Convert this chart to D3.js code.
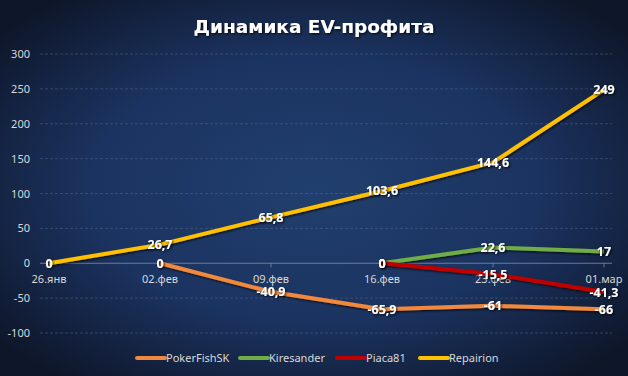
<!DOCTYPE html>
<html>
<head>
<meta charset="utf-8">
<script src="https://cdn.jsdelivr.net/npm/d3@7"></script>
<style>
  body { margin: 0; background: #14213b; }
  svg { display: block; }
  .tick-y { font: 11px "Noto Sans", sans-serif; fill: #d9d9d9; }
  .cat { font: 11px "Noto Sans", sans-serif; fill: #d9d9d9; }
  .lbl { font: bold 12.5px "Noto Sans", sans-serif; fill: #fff; }
  .legend text { font: 11px "Noto Sans", sans-serif; fill: #d9d9d9; }
</style>
</head>
<body>
<div id="chart"></div>
<script>
var categories = ['26.янв', '02.фев', '09.фев', '16.фев', '23.фев', '01.мар'];
var seriesNames = ['PokerFishSK', 'Kiresander', 'Piaca81', 'Repairion'];
var pokerFishSK = [null, 0, -40.9, -65.9, -61, -66];
var kiresander = [null, null, null, 0, 22.6, 17];
var piaca81 = [null, null, null, 0, -15.5, -41.3];
var repairion = [0, 26.7, 65.8, 103.6, 144.6, 249];
var yTicks = [-100, -50, 0, 50, 100, 150, 200, 250, 300];
var colors = ['#f0883e', '#70ad47', '#c00000', '#ffc000'];

var width = 628,
    height = 376;

var svg = d3.select('#chart').append('svg')
    .attr('width', width)
    .attr('height', height);

//  background gradient
var defs = svg.append('defs');
var grad = defs.append('radialGradient')
    .attr('id', 'bg')
    .attr('cx', '50%').attr('cy', '50%').attr('r', '65%');
grad.append('stop').attr('offset', '0%').attr('stop-color', '#213f6e');
grad.append('stop').attr('offset', '55%').attr('stop-color', '#1b3360');
grad.append('stop').attr('offset', '100%').attr('stop-color', '#0e1629');

var sh = defs.append('filter').attr('id', 'shadow')
    .attr('x', '-20%').attr('y', '-50%').attr('width', '140%').attr('height', '200%');
sh.append('feDropShadow').attr('dx', 1.2).attr('dy', 1.2).attr('stdDeviation', 0.9)
    .attr('flood-color', '#000').attr('flood-opacity', 0.8);

svg.append('rect')
    .attr('width', width)
    .attr('height', height)
    .attr('fill', 'url(#bg)');

var x = d3.scalePoint()
    .domain(categories)
    .range([49, 604]);

var y = d3.scaleLinear()
    .domain([-100, 300])
    .range([333, 54]);

//  gridlines
svg.append('g').selectAll('line')
    .data(yTicks.filter(function(d) { return d !== 0; }))
    .enter().append('line')
    .attr('x1', 40).attr('x2', 612)
    .attr('y1', function(d) { return y(d); })
    .attr('y2', function(d) { return y(d); })
    .attr('stroke', '#5a6f96')
    .attr('stroke-opacity', 0.55)
    .attr('stroke-width', 0.8)
    .attr('stroke-dasharray', '3,2');

//  y labels
svg.append('g').selectAll('text')
    .data(yTicks)
    .enter().append('text')
    .attr('class', 'tick-y')
    .attr('x', 30)
    .attr('y', function(d) { return y(d) + 4; })
    .attr('text-anchor', 'end')
    .text(function(d) { return d; });

//  zero axis
svg.append('line')
    .attr('x1', 40).attr('x2', 612)
    .attr('y1', y(0)).attr('y2', y(0))
    .attr('stroke', '#7f8ea8')
    .attr('stroke-width', 0.8);

svg.append('g').selectAll('line')
    .data(categories)
    .enter().append('line')
    .attr('x1', function(d) { return x(d); })
    .attr('x2', function(d) { return x(d); })
    .attr('y1', y(0))
    .attr('y2', y(0) + 4)
    .attr('stroke', '#7f8ea8')
    .attr('stroke-width', 0.8);

svg.append('g').selectAll('text')
    .data(categories)
    .enter().append('text')
    .attr('class', 'cat')
    .attr('x', function(d) { return x(d); })
    .attr('y', y(0) + 20)
    .attr('text-anchor', 'middle')
    .text(function(d) { return d; });

//  lines
var allSeries = [pokerFishSK, kiresander, piaca81, repairion];

var line = d3.line()
    .defined(function(d) { return d !== null; })
    .x(function(d, i) { return x(categories[i]); })
    .y(function(d) { return y(d); });

allSeries.forEach(function(s, k) {
    svg.append('path')
        .datum(s)
        .attr('d', line)
        .attr('fill', 'none')
        .attr('stroke', colors[k])
        .attr('stroke-width', 4)
        .attr('stroke-linejoin', 'round')
        .attr('filter', 'url(#shadow)');
});

//  data labels
var fmt = function(v) { return String(v).replace('.', ','); };
allSeries.forEach(function(s, k) {
    svg.append('g').selectAll('text')
        .data(s.map(function(v, i) { return { v: v, c: categories[i] }; })
            .filter(function(d) { return d.v !== null; }))
        .enter().append('text')
        .attr('class', 'lbl')
        .attr('x', function(d) { return x(d.c); })
        .attr('y', function(d) { return y(d.v) + 4.5; })
        .attr('text-anchor', 'middle')
        .attr('filter', 'url(#shadow)')
        .text(function(d) { return fmt(d.v); });
});

//  title
svg.append('text')
    .attr('x', width / 2)
    .attr('y', 33)
    .attr('text-anchor', 'middle')
    .attr('filter', 'url(#shadow)')
    .style('font', 'bold 18.5px "DejaVu Sans", sans-serif')
    .style('fill', '#fff')
    .text('Динамика EV-профита');

//  legend
var legendX = [137, 240, 337, 420];
var legend = svg.append('g').attr('class', 'legend')
    .selectAll('g')
    .data(seriesNames)
    .enter().append('g')
    .attr('transform', function(d, i) { return 'translate(' + legendX[i] + ',358)'; });

legend.append('line')
    .attr('x1', 0).attr('x2', 28)
    .attr('stroke', function(d, i) { return colors[i]; })
    .attr('stroke-width', 4)
    .attr('stroke-linecap', 'round');

legend.append('text')
    .attr('x', 29)
    .attr('y', 4)
    .text(function(d) { return d; });
</script>
</body>
</html>
